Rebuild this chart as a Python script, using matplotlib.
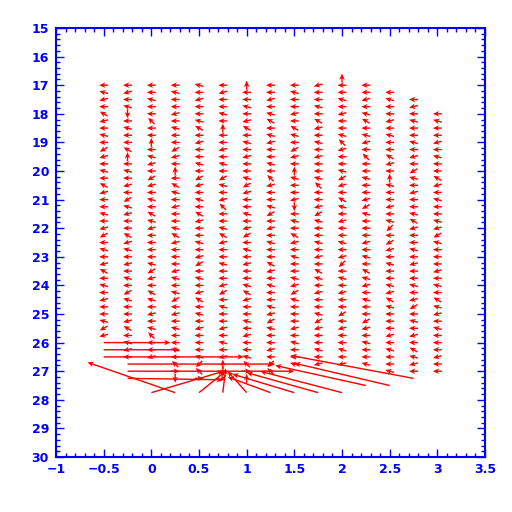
import matplotlib
matplotlib.use("Agg")
import matplotlib.pyplot as plt
from matplotlib.ticker import MultipleLocator, FuncFormatter
import numpy as np

# grid columns of the vector field and the first row of each column
col_x = [-0.5, -0.25, 0.0, 0.25, 0.5, 0.75, 1.0, 1.25, 1.5, 1.75, 2.0, 2.25, 2.5, 2.75, 3.0]
col_top = [17.0, 17.0, 17.0, 17.0, 17.0, 17.0, 17.0, 17.0, 17.0, 17.0, 16.75, 17.0, 17.25, 17.5, 18.0]
row_step = 0.25

# one direction code per row (rows go down by row_step from col_top)
col_dirs = [
    "abca icab ajca baic aaba cjab acia baca abjc",
    "acab gaba aifa baca jbca aicb acab ajba acia bca",
    "aaba adaa fabc ajca baib caaa abjc aiba cabd aac",
    "abaa caba ajca faib acaa bica aacb abja caba abad hg",
    "baca abia caab ajca baic aaba cjab acia baca aabe dh",
    "acaa bafa acab ajba cdaa bica abaa cjab aaca bacf ge",
    "faab acia baca abjc aaba cjab acaa bica abac aabd hf",
    "aaca biab caab adca abja caba aica baab cjba acae d",
    "abaa caib ajca fbaa cgab aica baab cjba aaca baab",
    "caab aica baca abda acjb aaba caib acaa bjca abac",
    "faab acaa bdca abjc aiba caab acea baca ajac aaba c",
    "aaca biab cada abaa cjba aaca baib caba ajca baab",
    "abaa caba aica fbaa cabe ajca baab ciba aaca baab",
    "acab aaba cajb acaa bica abac aaba cjab acai bca",
    "abaa caba aica baab cjba aaca baib caba aaca a",
]
# direction code -> screen angle in degrees
dir_angle = {"a": 180, "b": 165, "c": 195, "d": 135, "e": 225,
             "f": 90, "g": 270, "h": 0, "i": 150, "j": 210}
small_len = 9  # arrow length in pixels

# the big vectors at the bottom of the field (start -> end in data units)
long_x0 = [-0.5, -0.5, -0.5, -0.25, -0.25, -0.25, 0.0, 0.25, 0.5, 0.75, 1.0,
           1.25, 1.5, 1.75, 2.0, 2.25, 2.5, 2.75]
long_y0 = [26.0, 26.25, 26.5, 26.75, 27.0, 27.25, 27.75, 27.75, 27.75, 27.75, 27.75,
           27.75, 27.75, 27.75, 27.75, 27.5, 27.5, 27.25]
long_x1 = [0.2, 0.3, 0.97, 1.3, 1.5, 0.75, 0.76, -0.67, 0.78, 0.78, 0.8,
           0.8, 0.85, 1.0, 1.14, 1.3, 1.5, 1.46]
long_y1 = [26.0, 26.25, 26.5, 26.75, 27.0, 27.3, 27.0, 26.69, 27.0, 26.9, 27.0,
           27.2, 27.1, 27.05, 27.0, 26.8, 26.72, 26.45]

X, Y, A = [], [], []
for cx, top, s in zip(col_x, col_top, col_dirs):
    s = s.replace(" ", "")
    for i, ch in enumerate(s):
        X.append(cx)
        Y.append(top + i * row_step)
        A.append(dir_angle[ch])
X = np.array(X); Y = np.array(Y); A = np.array(A)
mag = np.full(len(X), small_len, dtype=float)

fig = plt.figure(figsize=(5.12, 5.12), dpi=100)
ax = fig.add_axes([56/512, 1-457/512, 429/512, 429/512])

head = dict(units='dots', width=1.4, headwidth=4, headlength=4.5, headaxislength=3.5,
            color='red')
ax.quiver(X, Y, mag, np.zeros_like(mag), angles=A, scale_units='dots', scale=1,
          pivot='mid', **head)

lx0 = np.array(long_x0); ly0 = np.array(long_y0)
ax.quiver(lx0, ly0, np.array(long_x1) - lx0, np.array(long_y1) - ly0,
          angles='xy', scale_units='xy', scale=1, **head)

ax.set_xlim(-1, 3.5)
ax.set_ylim(30, 15)
ax.xaxis.set_major_locator(MultipleLocator(0.5))
ax.xaxis.set_minor_locator(MultipleLocator(0.1))
ax.yaxis.set_major_locator(MultipleLocator(1))
ax.yaxis.set_minor_locator(MultipleLocator(0.2))
fmt = FuncFormatter(lambda v, p: ("%g" % v).replace("-", "\u2212"))
ax.xaxis.set_major_formatter(fmt)
ax.yaxis.set_major_formatter(fmt)
ax.tick_params(which='both', direction='in', top=True, right=True,
               colors='blue', labelsize=9)
ax.tick_params(which='major', length=6, width=1)
ax.tick_params(which='minor', length=3, width=1)
ax.tick_params(axis='x', pad=4)
ax.tick_params(axis='y', pad=5)
for lab in ax.get_xticklabels() + ax.get_yticklabels():
    lab.set_fontweight('bold')
for sp in ax.spines.values():
    sp.set_color('blue')
    sp.set_linewidth(1.5)

fig.savefig("out.png", dpi=100)
